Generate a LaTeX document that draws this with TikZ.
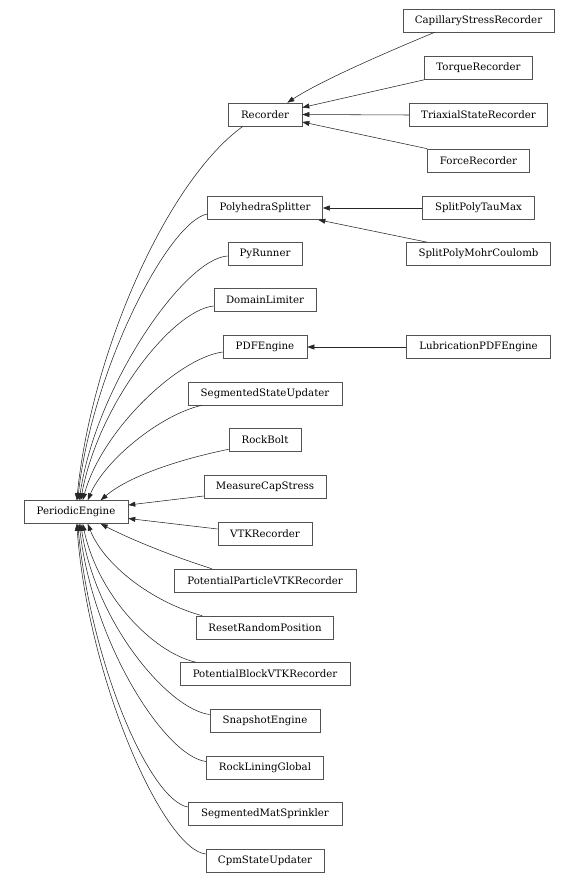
\documentclass[tikz,border=0pt]{standalone}
\usepackage{fontspec}
\setmainfont{DejaVu Serif}
\usetikzlibrary{arrows.meta}
\tikzset{
  cls/.style={draw=gray!65!black, line width=0.6pt, fill=white, minimum height=23pt, inner sep=0pt,
    font=\fontsize{10.2}{12}\selectfont},
  edge/.style={draw=black!85, line width=0.55pt, -{Triangle[length=7pt,width=5pt]}},
}
\begin{document}
\begin{tikzpicture}[x=1pt,y=-1pt]
\useasboundingbox (0,0) rectangle (578,883);
% right column
\node[cls, minimum width=151pt] (cap) at (478.5,20.5) {CapillaryStressRecorder};
\node[cls, minimum width=108pt] (torque) at (478.5,68) {TorqueRecorder};
\node[cls, minimum width=138pt] (triax) at (478.5,115) {TriaxialStateRecorder};
\node[cls, minimum width=102pt] (force) at (478.5,160.5) {ForceRecorder};
\node[cls, minimum width=112pt] (tau) at (478.5,208) {SplitPolyTauMax};
\node[cls, minimum width=144pt] (mohr) at (478.5,254) {SplitPolyMohrCoulomb};
\node[cls, minimum width=144pt] (lub) at (478.5,347) {LubricationPDFEngine};
% middle column
\node[cls, minimum width=74pt] (rec) at (265,114.5) {Recorder};
\node[cls, minimum width=115pt] (poly) at (265,208) {PolyhedraSplitter};
\node[cls, minimum width=74pt] (py) at (265,254) {PyRunner};
\node[cls, minimum width=102pt] (dom) at (265,300) {DomainLimiter};
\node[cls, minimum width=84pt] (pdf) at (265,347) {PDFEngine};
\node[cls, minimum width=154pt] (seg) at (265,393.5) {SegmentedStateUpdater};
\node[cls, minimum width=72pt] (rock) at (265,440) {RockBolt};
\node[cls, minimum width=122pt] (meas) at (265,486.5) {MeasureCapStress};
\node[cls, minimum width=94pt] (vtk) at (265,533.5) {VTKRecorder};
\node[cls, minimum width=182pt] (pp) at (265,580.5) {PotentialParticleVTKRecorder};
\node[cls, minimum width=137pt] (reset) at (265,627.5) {ResetRandomPosition};
\node[cls, minimum width=170pt] (pb) at (265,674) {PotentialBlockVTKRecorder};
\node[cls, minimum width=110pt] (snap) at (265,720.5) {SnapshotEngine};
\node[cls, minimum width=117pt] (rl) at (265,767.5) {RockLiningGlobal};
\node[cls, minimum width=154pt] (sm) at (265,814) {SegmentedMatSprinkler};
\node[cls, minimum width=118pt] (cpm) at (265,861) {CpmStateUpdater};
% left
\node[cls, minimum width=104pt] (pe) at (76,512) {PeriodicEngine};

% right column -> middle
\draw[edge] ([xshift=32pt]cap.south west) .. controls (392,50) and (322,80) .. ([xshift=-15pt]rec.north east);
\draw[edge] (torque.south west) -- ([yshift=7pt]rec.east);
\draw[edge] (triax.west) -- (rec.east);
\draw[edge] (force.north west) -- ([yshift=-7.5pt]rec.east);
\draw[edge] (tau.west) -- (poly.east);
\draw[edge] ([xshift=21pt]mohr.north west) -- ([xshift=-4.5pt]poly.south east);
\draw[edge] (lub.west) -- (pdf.east);

% middle -> PeriodicEngine (upper)
\draw[edge] ([xshift=-22pt]rec.south) .. controls (168,180) and (92,350) .. ([xshift=53pt]pe.north west);
\draw[edge] ([yshift=-6pt]poly.west) .. controls (168,222) and (92,370) .. ([xshift=54pt]pe.north west);
\draw[edge] ([yshift=-2pt]py.west) .. controls (185,258) and (96,385) .. ([xshift=55.5pt]pe.north west);
\draw[edge] ([yshift=-6pt]dom.west) .. controls (172,310) and (98,405) .. ([xshift=57pt]pe.north west);
\draw[edge] ([yshift=-5pt]pdf.west) .. controls (178,358) and (102,430) .. ([xshift=59pt]pe.north west);
\draw[edge] ([xshift=14pt]seg.south west) .. controls (160,415) and (105,460) .. ([xshift=64pt]pe.north west);
\draw[edge] ([yshift=2.5pt]rock.south west) .. controls (185,458) and (130,475) .. ([xshift=77pt]pe.north west);
\draw[edge] ([yshift=-9.5pt]meas.west) -- ([yshift=7pt]pe.east);
\draw[edge] ([yshift=4.5pt]vtk.west) -- ([yshift=-6.5pt]pe.east);
% middle -> PeriodicEngine (lower)
\draw[edge] ([xshift=38pt]pp.north west) .. controls (172,556) and (132,540) .. ([xshift=77pt]pe.south west);
\draw[edge] ([xshift=6pt]reset.north west) .. controls (152,602) and (104,565) .. ([xshift=64pt]pe.south west);
\draw[edge] ([xshift=16pt]pb.north west) .. controls (152,652) and (98,595) .. ([xshift=59pt]pe.south west);
\draw[edge] ([yshift=6pt]snap.west) .. controls (170,710) and (96,625) .. ([xshift=57pt]pe.south west);
\draw[edge] ([yshift=6pt]rl.west) .. controls (166,757) and (93,645) .. ([xshift=55.5pt]pe.south west);
\draw[edge] ([yshift=7pt]sm.west) .. controls (150,800) and (91,665) .. ([xshift=54pt]pe.south west);
\draw[edge] ([yshift=7pt]cpm.west) .. controls (165,850) and (89,685) .. ([xshift=53pt]pe.south west);
\end{tikzpicture}
\end{document}
